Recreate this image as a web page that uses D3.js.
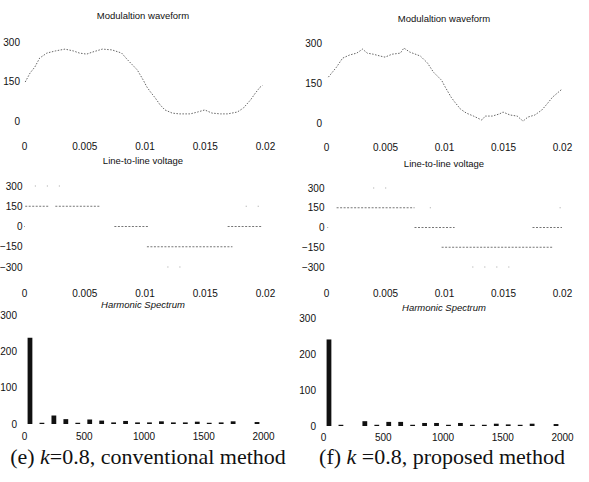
<!DOCTYPE html>
<html><head><meta charset="utf-8">
<script src="https://cdn.jsdelivr.net/npm/d3@7"></script>
<style>body{margin:0;background:#fff}svg{display:block}</style>
</head><body><svg id="c" width="589" height="482"></svg>
<script>
// ---------- data ----------
const modTimeL = [0.0001,0.0005,0.0009,0.0013,0.0019,0.0026,0.0034,0.0041,0.0046,0.0052,0.0057,0.0065,0.0073,0.0081,0.0086,0.0094,0.0099,0.0102,0.0105,0.0109,0.0113,0.0117,0.0123,0.0129,0.0138,0.0144,0.0150,0.0156,0.0163,0.0169,0.0177,0.0182,0.0188,0.0192,0.0196,0.0198];
const modValL  = [148,182,205,239,258,266,273,266,258,254,262,273,270,258,232,194,155,129,110,87,61,42,30,27,27,34,42,30,27,27,34,49,80,106,129,135];
const modTimeR = [0.0002,0.0009,0.0014,0.0020,0.0026,0.0031,0.0035,0.0040,0.0046,0.0050,0.0056,0.0063,0.0066,0.0071,0.0080,0.0086,0.0091,0.0098,0.0101,0.0106,0.0109,0.0114,0.0119,0.0125,0.0132,0.0135,0.0141,0.0147,0.0150,0.0156,0.0162,0.0167,0.0171,0.0177,0.0183,0.0188,0.0192,0.0196,0.0200];
const modValR  = [172,210,243,255,262,277,262,258,251,247,258,262,281,266,251,225,191,160,135,97,79,52,37,26,11,26,26,34,41,30,26,7,22,30,49,75,97,112,127];

const vStartL  = [0.0001,0.0026,0.0184,0.0000,0.0075,0.0169,0.0102,0.0119,0.0009];
const vEndL    = [0.0021,0.0063,0.0198,0.0003,0.0103,0.0198,0.0173,0.0134,0.0037];
const vLevelL  = [150,150,150,0,0,0,-150,-300,300];
const vSparseL = [0,0,1,1,0,0,0,1,1];
const vStartR  = [0.0009,0.0088,0.0198,0.0001,0.0075,0.0175,0.0098,0.0124,0.0040];
const vEndR    = [0.0075,0.0090,0.0199,0.0009,0.0109,0.0200,0.0192,0.0163,0.0058];
const vLevelR  = [150,150,150,0,0,0,-150,-300,300];
const vSparseR = [0,1,1,1,0,0,0,1,1];

const harmFreq = [50,150,250,350,450,550,650,750,850,950,1050,1150,1250,1350,1450,1550,1650,1750,1850,1950];
const harmAmpL = [236,2,22,12,2,11,8,3,7,3,3,6,3,3,5,2,3,6,0,4];
const harmAmpR = [239,2,0,12,2,10,10,2,7,7,2,7,2,2,5,3,2,5,0,4];

const timeTicks = [0,0.005,0.01,0.015,0.02];
const timeTickLabels = ["0","0.005","0.01","0.015","0.02"];
const modTicks = [0,150,300];
const voltTicks = [-300,-150,0,150,300];
const specYTicks = [0,100,200,300];
const specXTicks = [0,500,1000,1500,2000];

const titles = ["Modulaltion waveform","Line-to-line voltage","Harmonic Spectrum"];

// ---------- drawing ----------
const svg = d3.select("#c");
const sans = "'Liberation Sans', Arial, sans-serif";
const serif = "'Liberation Serif', 'Times New Roman', serif";

const cols = [
  {x0:24, x1:265, mod:[121,42], volt:[267,186], spec:[424,315], sx:[24,263],
   tY:[18.5,163.5,308], axY:[150,297,440], cx:143,
   modT:modTimeL, modV:modValL, vs:vStartL, ve:vEndL, vl:vLevelL, vsp:vSparseL, amp:harmAmpL},
  {x0:326, x1:562, mod:[123,43], volt:[267,188], spec:[426,318], sx:[323,562],
   tY:[21.5,166.5,311], axY:[151,297,441], cx:444,
   modT:modTimeR, modV:modValR, vs:vStartR, ve:vEndR, vl:vLevelR, vsp:vSparseR, amp:harmAmpR}
];

function yAxis(g, scale, ticks, pad){
  g.call(d3.axisLeft(scale).tickValues(ticks).tickSize(0).tickPadding(pad))
   .call(a=>a.select(".domain").remove())
   .selectAll("text").attr("font-family",sans).attr("font-size","10px").attr("fill","#111");
}
function xAxis(g, scale, ticks, fmt){
  g.call(d3.axisBottom(scale).tickValues(ticks).tickSize(0).tickPadding(0).tickFormat(fmt))
   .call(a=>a.select(".domain").remove())
   .selectAll("text").attr("font-family",sans).attr("font-size","10px").attr("fill","#111").attr("dy","0");
}

cols.forEach(c=>{
  const x = d3.scaleLinear().domain([0,0.02]).range([c.x0,c.x1]);
  // titles
  titles.forEach((t,i)=>{
    svg.append("text").attr("x",c.cx).attr("y",c.tY[i]).attr("text-anchor","middle")
      .attr("font-family",sans).attr("font-size","9.5px").attr("fill","#111")
      .attr("font-style", i===2?"italic":"normal").text(t);
  });
  // modulation waveform
  const ym = d3.scaleLinear().domain([0,300]).range(c.mod);
  svg.append("g").attr("transform",`translate(${c.x0},0)`).call(g=>yAxis(g,ym,modTicks,4));
  svg.append("g").attr("transform",`translate(0,${c.axY[0]})`).call(g=>xAxis(g,x,timeTicks,(d,i)=>timeTickLabels[i]));
  const line = d3.line().x((d,i)=>x(c.modT[i])).y(d=>ym(d)).curve(d3.curveLinear);
  svg.append("path").attr("d",line(c.modV)).attr("fill","none")
    .attr("stroke","#555").attr("stroke-width",0.9).attr("stroke-dasharray","1.5,1.5");

  // line-to-line voltage
  const yv = d3.scaleLinear().domain([-300,300]).range(c.volt);
  svg.append("g").attr("transform",`translate(${c.x0},0)`).call(g=>yAxis(g,yv,voltTicks,1.5));
  svg.append("g").attr("transform",`translate(0,${c.axY[1]})`).call(g=>xAxis(g,x,timeTicks,(d,i)=>timeTickLabels[i]));
  svg.append("g").selectAll("line").data(c.vl).join("line")
    .attr("x1",(d,i)=>x(c.vs[i])).attr("x2",(d,i)=>x(c.ve[i]))
    .attr("y1",d=>yv(d)).attr("y2",d=>yv(d))
    .attr("stroke",(d,i)=>c.vsp[i]?"#999":"#666")
    .attr("stroke-width",0.9)
    .attr("stroke-dasharray",(d,i)=>c.vsp[i]?"1,11":"2,1.5");

  // harmonic spectrum
  const xs = d3.scaleLinear().domain([0,2000]).range(c.sx);
  const ys = d3.scaleLinear().domain([0,300]).range(c.spec);
  svg.append("g").attr("transform",`translate(${c.sx[0]-3},0)`).call(g=>yAxis(g,ys,specYTicks,4));
  svg.append("g").attr("transform",`translate(0,${c.axY[2]})`).call(g=>xAxis(g,xs,specXTicks,d3.format("d")));
  svg.append("g").selectAll("rect").data(c.amp).join("rect")
    .attr("x",(d,i)=>xs(harmFreq[i]-20))
    .attr("width",(d,i)=>xs(harmFreq[i]+20)-xs(harmFreq[i]-20))
    .attr("y",d=>ys(d)-0.5)
    .attr("height",d=>d>0?Math.max(1.2, ys(0)-ys(d)+0.5):0)
    .attr("fill","#111");
});

// captions
const cap1 = svg.append("text").attr("x",148).attr("y",464).attr("text-anchor","middle")
  .attr("font-family",serif).attr("font-size","22px").attr("fill","#111");
cap1.append("tspan").text("(e) ");
cap1.append("tspan").attr("font-style","italic").text("k");
cap1.append("tspan").text("=0.8, conventional method");
const cap2 = svg.append("text").attr("x",442).attr("y",464).attr("text-anchor","middle")
  .attr("font-family",serif).attr("font-size","22px").attr("fill","#111");
cap2.append("tspan").text("(f) ");
cap2.append("tspan").attr("font-style","italic").text("k");
cap2.append("tspan").text(" =0.8, proposed method");
</script></body></html>
